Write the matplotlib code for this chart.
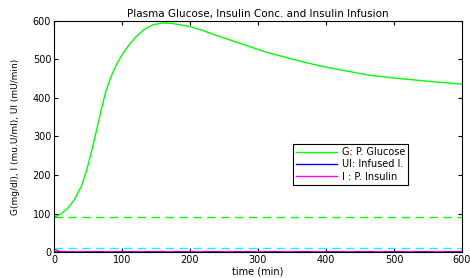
import numpy as np
import matplotlib.pyplot as plt

plt.rcParams['font.family'] = ['DejaVu Sans']

# plasma glucose
t_g = [0, 5, 10, 20, 30, 40, 48, 55, 62, 69, 76, 84, 92, 100, 110, 120, 132, 145,
       160, 172, 186, 201, 216, 240, 265, 290, 314, 340, 363, 390, 412, 440, 461,
       485, 510, 535, 559, 580, 600]
glucose = [91, 94, 99, 113, 136, 170, 212, 260, 312, 366, 416, 456, 487, 512, 537,
           558, 577, 590, 595, 594, 590, 585, 577, 562, 547, 532, 518, 506, 495, 484,
           476, 467, 460, 455, 450, 446, 442, 439, 436]

# plasma insulin and infused insulin
t_i = [0, 2, 4, 6, 8, 10, 15, 600]
insulin = [10, 7, 4.5, 3, 2, 1.5, 1.2, 1.2]
t_ui = [0, 600]
infused = [0, 0]

g_basal = 92
i_basal = 11

fig = plt.figure(figsize=(4.7, 2.78), dpi=100)
ax = fig.add_axes([0.1149, 0.0935, 0.868, 0.831])

ax.plot(t_g, glucose, color='#00ff00', lw=1.0, label='G: P. Glucose')
ax.plot(t_ui, infused, color='#0000ff', lw=1.0, label='UI: Infused I.')
ax.plot(t_i, insulin, color='#ff00ff', lw=1.0, label='I : P. Insulin')
ax.axhline(g_basal, color='#00ff00', lw=1.0, ls=(0, (6, 4)))
ax.axhline(i_basal, color='#00ffff', lw=1.0, ls=(0, (6, 4)))
ax.axhline(0.6, color='#a000c0', lw=1.2, ls=(0, (12, 6)))

ax.set_xlim(0, 600)
ax.set_ylim(0, 600)
ax.set_xticks(range(0, 601, 100))
ax.set_yticks(range(0, 601, 100))
ax.tick_params(direction='in', top=True, right=True, labelsize=7, length=3, pad=2)
for s in ax.spines.values():
    s.set_linewidth(0.8)

ax.set_title('Plasma Glucose, Insulin Conc. and Insulin Infusion', fontsize=7.5, pad=3)
ax.set_xlabel('time (min)', fontsize=7, labelpad=1)
ax.set_ylabel('G(mg/dl), I (mu.U/ml), UI (mU/min)', fontsize=6.5, labelpad=9)

leg = ax.legend(loc='upper left', bbox_to_anchor=(0.586, 0.4675), borderaxespad=0,
                fontsize=7, frameon=True, fancybox=False, edgecolor='black',
                framealpha=1, handlelength=4.2, borderpad=0.3, labelspacing=0.25,
                handletextpad=0.5)
leg.get_frame().set_linewidth(0.8)

fig.savefig('out.png', dpi=100)
